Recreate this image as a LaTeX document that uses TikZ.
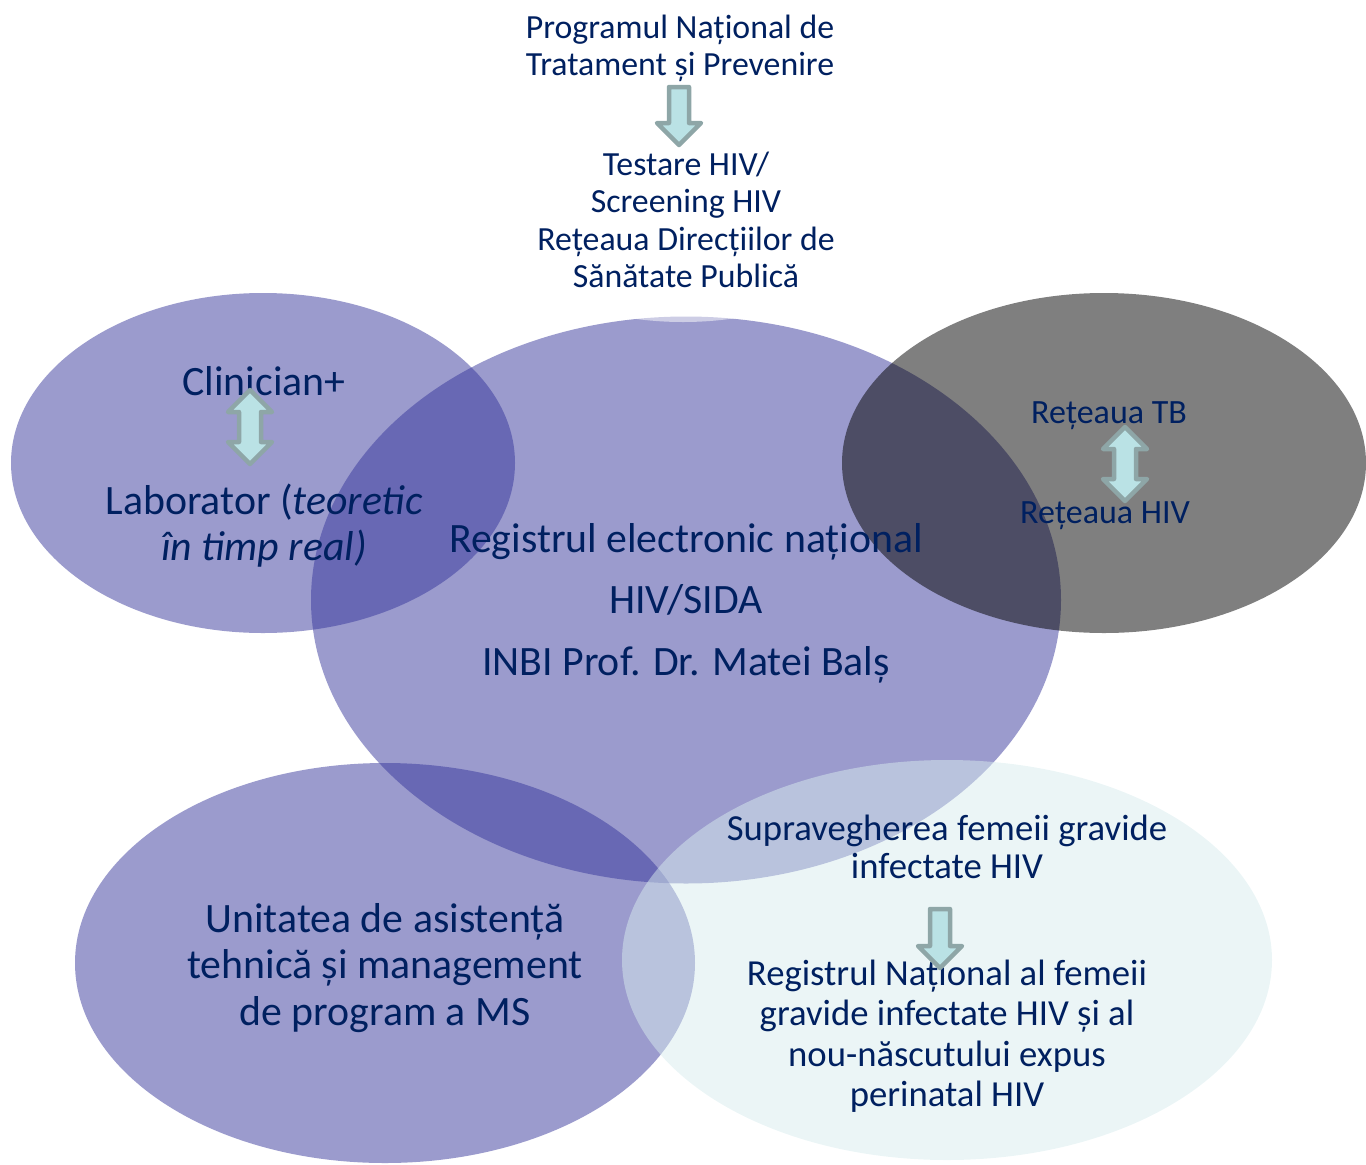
\documentclass[tikz,border=0pt]{standalone}
\usepackage{fontspec}
\setmainfont{Carlito}
\usetikzlibrary{shapes.geometric}
\definecolor{navy}{RGB}{0,32,96}
\definecolor{lav}{RGB}{55,55,155}
\definecolor{lightc}{RGB}{216,236,238}
\definecolor{arrfill}{RGB}{186,226,229}
\definecolor{arrline}{RGB}{142,166,167}
\tikzset{
  blob/.style={ellipse, inner sep=0pt, draw=none},
  lavblob/.style={blob, fill=lav, fill opacity=0.5},
  txt/.style={text=navy, align=center, inner sep=0pt},
  blockarrow/.style={fill=arrfill, draw=arrline, line width=4.5pt, line join=round},
  pics/downarr/.style={code={
    \path[blockarrow] (-10,0) -- (10,0) -- (10,#1) -- (22,#1) -- (0,#1+22) -- (-22,#1) -- (-10,#1) -- cycle;
  }},
  pics/dblarr/.style={code={
    \path[blockarrow] (0,0) -- (22,22) -- (11,22) -- (11,22+#1) -- (22,22+#1) -- (0,44+#1) -- (-22,22+#1) -- (-11,22+#1) -- (-11,22) -- (-22,22) -- cycle;
  }}
}
\begin{document}
\begin{tikzpicture}[x=1pt,y=-1pt]
\useasboundingbox (0,0) rectangle (1366,1165);
\clip (0,0) rectangle (1366,1165);
% ellipses
\node[lavblob, minimum width=504pt, minimum height=340pt] (clin) at (263,463) {};
\node[lavblob, minimum width=750pt, minimum height=567pt] (reg) at (686,600) {};
\node[blob, fill=black, fill opacity=0.5, minimum width=524pt, minimum height=340pt] (tb) at (1104,463) {};
\node[lavblob, minimum width=620pt, minimum height=400pt] (unit) at (385,963) {};
\node[blob, fill=lightc, fill opacity=0.5, minimum width=650pt, minimum height=400pt] (grav) at (947,960) {};
\node[blob, fill=white, fill opacity=0.5, minimum width=480pt, minimum height=324pt] (prog) at (683,160) {};
% texts
\node[txt, font=\fontsize{33.8}{37}\selectfont] (tprog) at (680,48) {Programul Național de\\Tratament și Prevenire};
\node[txt, font=\fontsize{33.8}{37.5}\selectfont] (ttest) at (686,220) {Testare HIV/\\Screening HIV\\ Rețeaua Direcțiilor de\\Sănătate Publică};
\node[txt, font=\fontsize{41.8}{46}\selectfont] (tclin) at (264,381) {Clinician+};
\node[txt, font=\fontsize{41.8}{46}\selectfont] (tlab) at (264,526) {Laborator (\textit{teoretic}\\\textit{în timp real)}};
\node[txt, font=\fontsize{41.8}{61.5}\selectfont] (treg) at (686,603) {Registrul electronic național\\HIV/SIDA\\INBI Prof. Dr. Matei Balș};
\node[txt, font=\fontsize{34}{34}\selectfont] (ttb) at (1109,416) {Rețeaua TB};
\node[txt, font=\fontsize{34}{34}\selectfont] (thiv) at (1105,516) {Rețeaua HIV};
\node[txt, font=\fontsize{41.8}{46.5}\selectfont] (tunit) at (385,968) {Unitatea de asistență\\tehnică și management\\de program a MS};
\node[txt, font=\fontsize{36.7}{38}\selectfont] (tsup) at (947,847) {Supravegherea femeii gravide\\infectate HIV};
\node[txt, font=\fontsize{36.7}{40.5}\selectfont] (tnat) at (947,1036) {Registrul Național al femeii\\gravide infectate HIV și al\\nou-născutului expus\\perinatal HIV};
% block arrows
\pic at (679,87) {downarr=36};
\pic at (250,390) {dblarr=30};
\pic at (1125,427) {dblarr=30};
\pic at (940,909) {downarr=37};
\end{tikzpicture}
\end{document}
